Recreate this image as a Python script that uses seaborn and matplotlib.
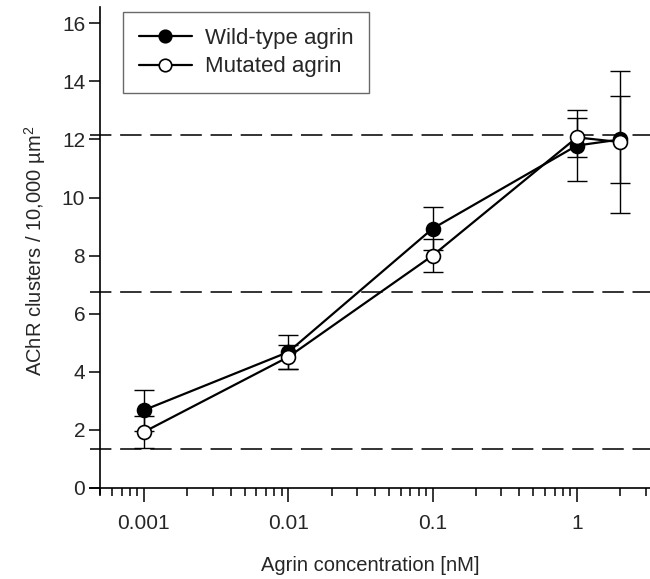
import numpy as np
import pandas as pd
import matplotlib
matplotlib.use("Agg")
import matplotlib.pyplot as plt
import matplotlib.ticker as mticker
import seaborn as sns

# ---- data ----
conc = [0.001, 0.01, 0.1, 1, 2]
wt_mean = [2.68, 4.68, 8.93, 11.79, 12.0]
wt_err = [0.71, 0.58, 0.75, 1.23, 1.5]
mut_mean = [1.93, 4.51, 8.0, 12.07, 11.91]
mut_err = [0.56, 0.40, 0.58, 0.66, 2.45]
ref_lines = [12.15, 6.75, 1.35]
series_names = ["Wild-type agrin", "Mutated agrin"]
y_ticks = [0, 2, 4, 6, 8, 10, 12, 14, 16]
x_ticks = [0.001, 0.01, 0.1, 1]
x_ticklabels = ["0.001", "0.01", "0.1", "1"]

sns.set_style("ticks")
plt.rcParams["font.family"] = ["Liberation Sans", "DejaVu Sans"]
plt.rcParams["mathtext.default"] = "regular"

fig = plt.figure(figsize=(6.5, 5.79), dpi=100)
ax = fig.add_axes([90 / 650, (579 - 493.8) / 579, 560 / 650, 486.8 / 579])

df_wt = pd.DataFrame({"conc": conc, "val": wt_mean})
df_mut = pd.DataFrame({"conc": conc, "val": mut_mean})

ax.errorbar(conc, wt_mean, yerr=wt_err, fmt="none", ecolor="black",
            elinewidth=1.0, capsize=7, capthick=1.0, zorder=2)
ax.errorbar(conc, mut_mean, yerr=mut_err, fmt="none", ecolor="black",
            elinewidth=1.0, capsize=7, capthick=1.0, zorder=2)

for yv in ref_lines:
    ax.axhline(yv, color="#333333", lw=1.4, ls=(0, (11, 4.5)), zorder=1)

sns.lineplot(data=df_wt, x="conc", y="val", ax=ax, color="black", lw=1.6,
             marker="o", ms=10, mfc="black", mec="black", mew=1.2,
             label=series_names[0], zorder=3)
sns.lineplot(data=df_mut, x="conc", y="val", ax=ax, color="black", lw=1.6,
             marker="o", ms=10, mfc="white", mec="black", mew=1.2,
             label=series_names[1], zorder=4)

ax.set_xscale("log")
ax.set_xlim(0.000423, 3.21)
ax.set_ylim(-0.2, 16.56)
ax.spines["left"].set_position(("data", 0.0005))
ax.spines["bottom"].set_position(("data", 0))
ax.spines["right"].set_visible(False)
ax.spines["top"].set_visible(False)
for s in ("left", "bottom"):
    ax.spines[s].set_linewidth(1.2)
    ax.spines[s].set_color("black")

ax.set_xticks(x_ticks)
ax.set_xticklabels(x_ticklabels)
ax.xaxis.set_minor_locator(mticker.LogLocator(base=10, subs=np.arange(2, 10)))
ax.xaxis.set_minor_formatter(mticker.NullFormatter())
ax.set_yticks(y_ticks)

ax.tick_params(axis="x", which="major", direction="out", length=10, width=1.1,
               labelsize=15, pad=9, color="black")
ax.tick_params(axis="x", which="minor", direction="out", length=6, width=1.1,
               color="black")
ax.tick_params(axis="y", which="major", direction="out", length=8, width=1.1,
               labelsize=15, pad=3, color="black")

ax.set_xlabel("Agrin concentration [nM]", fontsize=14.5, labelpad=16)
ax.set_ylabel("AChR clusters / 10,000 µm$^2$", fontsize=14.5, labelpad=10)

leg = ax.legend(loc="upper left", bbox_to_anchor=(123 / 650, 1 - 12 / 579),
                bbox_transform=fig.transFigure, fontsize=16, frameon=True,
                fancybox=False, edgecolor="#444444", handlelength=2.4,
                borderpad=0.7, labelspacing=0.35, handletextpad=0.6,
                borderaxespad=0)
leg.get_frame().set_linewidth(1.0)
for h in leg.legend_handles:
    h.set_markersize(9)

fig.savefig("out.png", dpi=100)
